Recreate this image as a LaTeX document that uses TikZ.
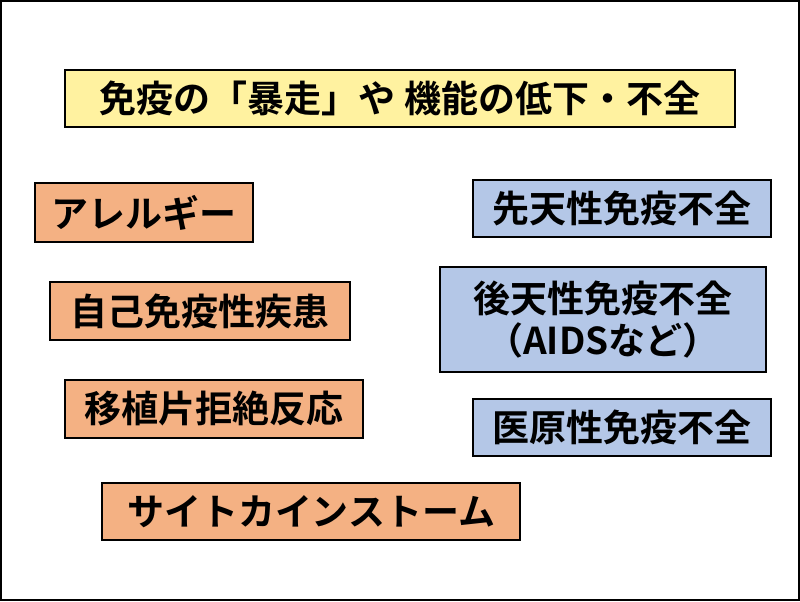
\documentclass[tikz,border=0pt]{standalone}
\usepackage{fontspec}
\newfontfamily\jp{Noto Sans CJK JP Bold}
\definecolor{ye}{HTML}{FFF2A0}
\definecolor{og}{HTML}{F4B183}
\definecolor{bl}{HTML}{B4C7E7}
\tikzset{bx/.style={draw=black,line width=2pt,inner sep=0pt,font=\jp\fontsize{37}{42}\selectfont,align=center}}
\newcommand\bxat[6]{\node[bx,fill=#5,minimum width=#3-#1,minimum height=#4-#2] (#6) at ({(#1+#3)/2},{601-(#2+#4)/2})}
\begin{document}
\begin{tikzpicture}[x=1pt,y=1pt]
\draw[line width=2.5pt,fill=white] (1,1) rectangle (799,600);
\useasboundingbox (0,0) rectangle (800,601);
\bxat{65}{70}{735}{127}{ye}{t} {免疫の「暴走」や 機能の低下・不全};
\bxat{35}{183}{253}{242}{og}{a} {アレルギー};
\bxat{50}{282}{350}{340}{og}{b} {自己免疫性疾患};
\bxat{65}{380}{363}{438}{og}{c} {移植片拒絶反応};
\bxat{102}{483}{520}{540}{og}{d} {サイトカインストーム};
\bxat{473}{180}{771}{237}{bl}{e} {先天性免疫不全};
\bxat{440}{267}{766}{372}{bl}{f} {後天性免疫不全\\（AIDSなど）};
\bxat{473}{399}{771}{456}{bl}{g} {医原性免疫不全};
\end{tikzpicture}
\end{document}
